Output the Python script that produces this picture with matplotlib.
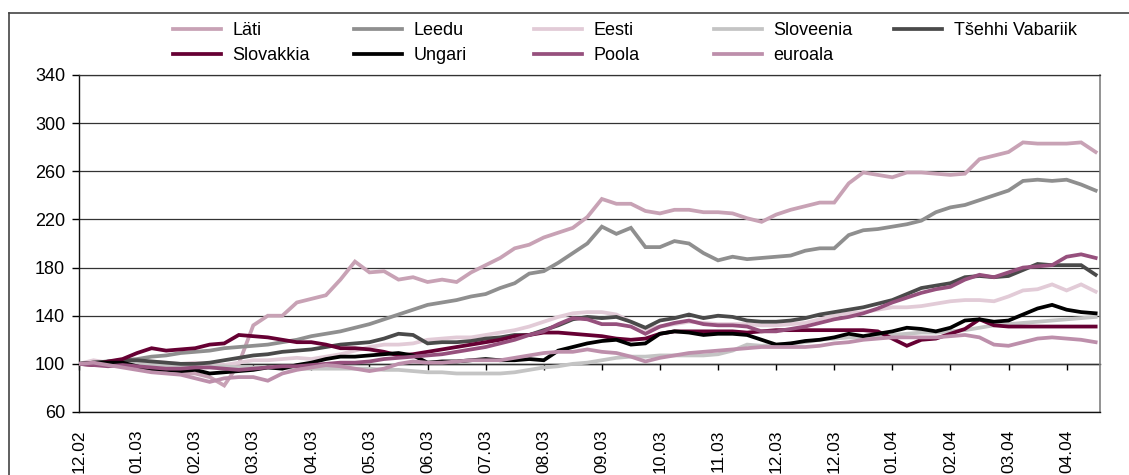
import numpy as np
import matplotlib
matplotlib.use("Agg")
import matplotlib.pyplot as plt
from matplotlib.lines import Line2D

plt.rcParams['font.family'] = ['Liberation Sans', 'DejaVu Sans']

# ---------------- data (index values, 12.02 = 100) ----------------
tick_labels = ["12.02", "01.03", "02.03", "03.03", "04.03", "05.03", "06.03",
               "07.03", "08.03", "09.03", "10.03", "11.03", "12.03", "12.03",
               "01.04", "02.04", "03.04", "04.04"]
series_names = ["Läti", "Leedu", "Eesti", "Sloveenia", "Tšehhi Vabariik",
                "Slovakkia", "Ungari", "Poola", "euroala"]

lati = [100, 101, 100, 98, 96, 95, 93, 92, 92, 89, 82, 100, 132, 140, 140, 151, 154, 157,
        170, 185, 176, 177, 170, 172, 168, 170, 168, 176, 182, 188, 196, 199, 205, 209,
        213, 222, 237, 233, 233, 227, 225, 228, 228, 226, 226, 225, 221, 218, 224, 228,
        231, 234, 234, 250, 259, 257, 255, 259, 259, 258, 257, 258, 270, 273, 276, 284,
        283, 283, 283, 284, 276]
leedu = [100, 100, 101, 103, 104, 106, 107, 109, 110, 111, 113, 114, 115, 116, 118, 120,
         123, 125, 127, 130, 133, 137, 141, 145, 149, 151, 153, 156, 158, 163, 167, 175,
         177, 184, 192, 200, 214, 208, 213, 197, 197, 202, 200, 192, 186, 189, 187, 188,
         189, 190, 194, 196, 196, 207, 211, 212, 214, 216, 219, 226, 230, 232, 236, 240,
         244, 252, 253, 252, 253, 249, 244]
eesti = [100, 103, 101, 100, 101, 102, 101, 100, 101, 100, 99, 101, 103, 103, 104, 105,
         104, 106, 108, 111, 114, 116, 116, 117, 120, 121, 122, 122, 124, 126, 128, 131,
         135, 139, 142, 143, 143, 141, 135, 129, 131, 133, 135, 134, 133, 133, 133, 132,
         132, 133, 134, 137, 140, 142, 143, 145, 147, 147, 148, 150, 152, 153, 153, 152,
         156, 161, 162, 166, 161, 166, 160]
sloveenia = [100, 100, 100, 100, 100, 99, 99, 99, 98, 98, 98, 97, 97, 97, 97, 96, 96, 96,
             96, 96, 96, 95, 95, 94, 93, 93, 92, 92, 92, 92, 93, 95, 97, 98, 100, 101, 103,
             105, 106, 106, 107, 107, 107, 107, 108, 111, 116, 115, 116, 117, 118, 120, 121,
             122, 122, 123, 124, 125, 126, 126, 127, 128, 130, 132, 133, 134, 135, 136, 137,
             138, 139]
tsehhi = [100, 101, 102, 103, 103, 102, 101, 100, 100, 101, 103, 105, 107, 108, 110, 111,
          112, 114, 116, 117, 118, 121, 125, 124, 117, 118, 118, 119, 121, 122, 124, 124,
          128, 132, 137, 139, 138, 139, 135, 130, 136, 138, 141, 138, 140, 139, 136, 135,
          135, 136, 138, 141, 143, 145, 147, 150, 153, 158, 163, 165, 167, 172, 173, 172,
          173, 178, 183, 182, 182, 182, 174]
slovakkia = [100, 99, 102, 104, 109, 113, 111, 112, 113, 116, 117, 124, 123, 122, 120, 118,
             118, 116, 113, 113, 112, 110, 107, 108, 110, 112, 114, 116, 118, 120, 123, 124,
             126, 126, 125, 124, 123, 121, 120, 121, 125, 127, 127, 127, 127, 127, 126, 127,
             128, 128, 128, 128, 128, 128, 128, 127, 121, 115, 120, 121, 125, 129, 137, 132,
             131, 131, 131, 131, 131, 131, 131]
ungari = [100, 101, 101, 101, 98, 95, 95, 94, 95, 92, 93, 94, 95, 97, 96, 99, 101, 104, 106,
          106, 107, 108, 109, 107, 101, 102, 102, 103, 104, 103, 103, 104, 103, 111, 114, 117,
          119, 120, 116, 117, 125, 127, 126, 124, 125, 125, 124, 120, 116, 117, 119, 120, 122,
          125, 123, 125, 127, 130, 129, 127, 130, 136, 137, 135, 136, 141, 146, 149, 145, 143,
          142]
poola = [100, 99, 98, 99, 98, 97, 96, 96, 97, 97, 96, 95, 96, 97, 98, 98, 99, 100, 101, 101,
         102, 104, 105, 106, 107, 108, 110, 112, 114, 117, 120, 124, 127, 133, 138, 137, 133,
         133, 131, 125, 131, 134, 136, 133, 132, 132, 131, 127, 127, 129, 131, 134, 137, 139,
         142, 146, 151, 155, 159, 162, 164, 170, 174, 172, 176, 180, 181, 182, 189, 191, 188]
euroala = [100, 101, 99, 97, 95, 93, 92, 91, 88, 85, 88, 89, 89, 86, 92, 95, 97, 99, 98, 96,
           94, 96, 100, 102, 101, 101, 102, 103, 103, 103, 105, 107, 109, 110, 110, 112, 110,
           109, 106, 102, 105, 107, 109, 110, 111, 112, 113, 114, 114, 114, 114, 115, 117, 118,
           120, 121, 122, 122, 122, 122, 123, 124, 122, 116, 115, 118, 121, 122, 121, 120, 118]

all_series = [lati, leedu, eesti, sloveenia, tsehhi, slovakkia, ungari, poola, euroala]
colors = ["#C8A2B5", "#8F8F8F", "#E2CBD7", "#C4C4C4", "#4A4A4A",
          "#660033", "#000000", "#96507D", "#BD8FAB"]

points_per_tick = 4
y_min, y_max, y_step = 60, 340, 40
y_cross = 100

# ---------------- figure ----------------
W, H, DPI = 1129, 475, 100
fig = plt.figure(figsize=(W / DPI, H / DPI), dpi=DPI)
ax = fig.add_axes([79 / W, (H - 412) / H, (1100 - 79) / W, (412 - 75) / H])

x = np.arange(len(lati))
handles = []
for name, vals, col in zip(series_names, all_series, colors):
    h, = ax.plot(x, vals, color=col, lw=2.7, solid_joinstyle='miter', zorder=3, label=name)
    handles.append(h)

ax.set_ylim(y_min, y_max)
ax.set_xlim(0, 70.3)
ax.set_yticks(np.arange(y_min, y_max + 1, y_step))
tick_pos = np.arange(len(tick_labels)) * points_per_tick
ax.set_xticks(tick_pos)
ax.set_xticklabels(tick_labels, rotation=90, fontsize=12.5)
ax.tick_params(axis='x', length=0, pad=12.5)
ax.tick_params(axis='y', length=5, width=1, direction='out', labelsize=13, pad=5)

ax.yaxis.grid(True, color='#333333', lw=0.9, zorder=1)
ax.set_axisbelow(True)
for side in ['left', 'bottom']:
    ax.spines[side].set_color('#111111')
    ax.spines[side].set_linewidth(1.0)
ax.spines['right'].set_color('#808080')
ax.spines['right'].set_linewidth(1.2)
ax.spines['top'].set_color('#333333')
ax.spines['top'].set_linewidth(0.9)

# category axis crossing at 100 (tick marks on that line)
sec = ax.secondary_xaxis((y_cross - y_min) / (y_max - y_min))
sec.set_xticks(tick_pos)
sec.set_xticklabels([])
sec.tick_params(direction='out', length=4, width=1, color='black')
sec.spines['bottom'].set_color('black')
sec.spines['bottom'].set_linewidth(1.0)

# legend: 5 columns, row-wise order
col_x = [173, 354, 534, 714, 894]
for c in range(5):
    hs = [handles[c]]
    if c + 5 < len(handles):
        hs.append(handles[c + 5])
    fig.legend(handles=hs, loc='upper left', bbox_to_anchor=(col_x[c] / W, 1 - 22 / H),
               frameon=False, fontsize=13, handlelength=2.65, handletextpad=0.65,
               labelspacing=0.45, borderpad=0, borderaxespad=0)

# outer chart frame (cropped at right and bottom)
fig.add_artist(Line2D([8.5 / W, 8.5 / W], [0, 1 - 13 / H], transform=fig.transFigure,
                      color='#444444', lw=1.2))
fig.add_artist(Line2D([8.5 / W, 1], [1 - 13 / H, 1 - 13 / H], transform=fig.transFigure,
                      color='#444444', lw=1.2))

fig.savefig("out.png", dpi=DPI)
